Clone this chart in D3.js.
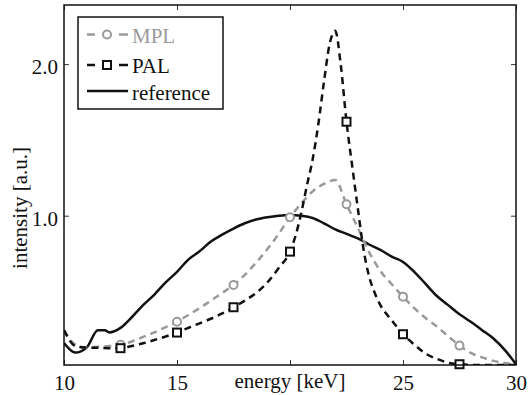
<!DOCTYPE html>
<html>
<head>
<meta charset="utf-8">
<script src="https://cdn.jsdelivr.net/npm/d3@7"></script>
<style>
  html, body { margin: 0; padding: 0; background: #fff; }
  svg, svg text { font-family: "Liberation Serif", "Times New Roman", serif; }
  svg { display: block; }
</style>
</head>
<body>
<svg id="chart" width="528" height="395"></svg>
<script>
// reference spectrum (solid)
const refEnergy = [10, 10.5, 11, 11.5, 11.8, 12, 12.5, 13, 13.5, 14, 14.5, 15, 15.5, 16, 16.5, 17, 17.5, 18, 18.5, 19, 19.5, 20,
  20.5, 21, 21.5, 22, 22.5, 23, 23.5, 24, 24.5, 25, 25.5, 26, 26.5, 27, 27.5, 28, 28.5, 29, 29.5, 30];
const refValues = [0.16, 0.097, 0.13, 0.245, 0.245, 0.23, 0.26, 0.33, 0.41, 0.48, 0.56, 0.63, 0.71, 0.765, 0.83, 0.875, 0.915, 0.95, 0.975, 0.99, 1.0, 1.005,
  1.0, 0.985, 0.95, 0.91, 0.88, 0.85, 0.81, 0.775, 0.73, 0.695, 0.63, 0.55, 0.47, 0.41, 0.35, 0.30, 0.245, 0.19, 0.115, 0.02];

// MPL (grey dashed, circles)
const mplEnergy = [10, 10.5, 11, 11.5, 12, 12.5, 13, 13.5, 14, 14.5, 15, 15.5, 16, 16.5, 17, 17.5, 18, 18.5, 19, 19.5, 20,
  20.5, 21, 21.5, 22, 22.5, 23, 23.5, 24, 24.5, 25, 25.5, 26, 26.5, 27, 27.5, 28, 28.5, 29, 29.5, 30];
const mplValues = [0.245, 0.15, 0.13, 0.135, 0.14, 0.148, 0.17, 0.2, 0.23, 0.265, 0.30, 0.345, 0.39, 0.44, 0.49, 0.543, 0.61, 0.69, 0.78, 0.88, 0.99,
  1.08, 1.16, 1.21, 1.235, 1.075, 0.92, 0.76, 0.635, 0.548, 0.466, 0.39, 0.325, 0.268, 0.205, 0.143, 0.095, 0.065, 0.042, 0.028, 0.02];

// PAL (black dashed, squares)
const palEnergy = [10, 10.5, 11, 11.5, 12, 12.5, 13, 13.5, 14, 14.5, 15, 15.5, 16, 16.5, 17, 17.5, 18, 18.5, 19, 19.5, 20,
  20.25, 20.5, 20.75, 21, 21.25, 21.5, 21.75, 22, 22.25, 22.5, 22.75, 23, 23.25, 23.5, 23.75, 24, 24.5, 25, 25.5, 26, 26.5, 27, 27.5, 28, 29, 30];
const palValues = [0.245, 0.14, 0.13, 0.128, 0.126, 0.126, 0.14, 0.158, 0.18, 0.203, 0.229, 0.26, 0.29, 0.32, 0.355, 0.396, 0.44, 0.49, 0.56, 0.655, 0.763,
  0.87, 1.02, 1.2, 1.37, 1.6, 1.88, 2.13, 2.22, 1.99, 1.62, 1.33, 1.05, 0.78, 0.6, 0.49, 0.41, 0.31, 0.218, 0.15, 0.09, 0.055, 0.03, 0.02, 0.016, 0.015, 0.015];

const markerEnergy = [12.5, 15, 17.5, 20, 22.5, 25, 27.5];
const xTicks = [10, 15, 20, 25, 30];
const yTicks = [1.0, 2.0];

const svg = d3.select("#chart");
const plotLeft = 64, plotRight = 516, plotTop = 5, plotBottom = 365;
const grey = "#9a9a9a";
const serif = "'Liberation Serif', 'Times New Roman', serif";

const x = d3.scaleLinear().domain([10, 30]).range([plotLeft, plotRight]);
const y = d3.scaleLinear().domain([0.015, 2.39]).range([plotBottom, plotTop]);

svg.append("defs").append("clipPath").attr("id", "plot-clip")
  .append("rect").attr("x", plotLeft).attr("y", plotTop)
  .attr("width", plotRight - plotLeft).attr("height", plotBottom - plotTop);

const toPts = (es, vs) => es.map((e, i) => [e, vs[i]]);
const line = d3.line().x(d => x(d[0])).y(d => y(d[1])).curve(d3.curveMonotoneX);

const plot = svg.append("g").attr("clip-path", "url(#plot-clip)");

plot.append("path").attr("d", line(toPts(refEnergy, refValues)))
  .attr("fill", "none").attr("stroke", "#111").attr("stroke-width", 2.5);

plot.append("path").attr("d", line(toPts(mplEnergy, mplValues)))
  .attr("fill", "none").attr("stroke", grey).attr("stroke-width", 2.5).attr("stroke-dasharray", "7,5");

plot.append("path").attr("d", line(toPts(palEnergy, palValues)))
  .attr("fill", "none").attr("stroke", "#111").attr("stroke-width", 2.5).attr("stroke-dasharray", "7,5");

// markers
const valueAt = (es, vs, e) => vs[es.indexOf(e)];
svg.append("g").selectAll("circle").data(markerEnergy).join("circle")
  .attr("cx", d => x(d)).attr("cy", d => y(valueAt(mplEnergy, mplValues, d)))
  .attr("r", 4).attr("fill", "white").attr("stroke", grey).attr("stroke-width", 2);

svg.append("g").selectAll("rect").data(markerEnergy).join("rect")
  .attr("x", d => x(d) - 4).attr("y", d => y(valueAt(palEnergy, palValues, d)) - 4)
  .attr("width", 8).attr("height", 8).attr("fill", "white").attr("stroke", "#111").attr("stroke-width", 2);

// axes, inward ticks
const fontSize = 21;
const axes = [
  svg.append("g").attr("transform", `translate(0,${plotBottom})`)
    .call(d3.axisBottom(x).tickValues(xTicks).tickSize(-5).tickPadding(10).tickFormat(d => d === 20 ? "" : d)),
  svg.append("g").attr("transform", `translate(0,${plotTop})`)
    .call(d3.axisTop(x).tickValues(xTicks).tickSize(-5).tickFormat("")),
  svg.append("g").attr("transform", `translate(${plotLeft},0)`)
    .call(d3.axisLeft(y).tickValues(yTicks).tickSize(-5).tickPadding(6).tickFormat(d3.format(".1f"))),
  svg.append("g").attr("transform", `translate(${plotRight},0)`)
    .call(d3.axisRight(y).tickValues(yTicks).tickSize(-5).tickFormat(""))
];
axes.forEach(g => g.attr("font-family", serif).attr("font-size", fontSize));
axes[2].selectAll(".tick text").attr("dy", "0.47em");

svg.selectAll(".domain").remove();
svg.selectAll(".tick line").attr("stroke", "#333").attr("stroke-width", 1);
svg.selectAll(".tick text").attr("fill", "#111");

// frame
svg.append("rect").attr("x", plotLeft).attr("y", plotTop)
  .attr("width", plotRight - plotLeft).attr("height", plotBottom - plotTop)
  .attr("fill", "none").attr("stroke", "#111").attr("stroke-width", 1.5);

// axis labels
svg.append("text").attr("x", x(20)).attr("y", 388).attr("text-anchor", "middle")
  .attr("font-family", serif).attr("font-size", fontSize).attr("fill", "#111").text("energy [keV]");
svg.append("text").attr("transform", "translate(27,208) rotate(-90)").attr("text-anchor", "middle")
  .attr("font-family", serif).attr("font-size", fontSize).attr("fill", "#111").text("intensity [a.u.]");

// legend
const legend = svg.append("g");
legend.append("rect").attr("x", 78).attr("y", 17).attr("width", 145).attr("height", 92)
  .attr("fill", "white").attr("stroke", "#111").attr("stroke-width", 1.5);

const legendItems = [
  { label: "MPL", color: grey, marker: "circle", dashed: true, ly: 34.5, ty: 43 },
  { label: "PAL", color: "#111", marker: "square", dashed: true, ly: 65, ty: 73 },
  { label: "reference", color: "#111", marker: null, dashed: false, ly: 91, ty: 100 }
];
legendItems.forEach(it => {
  if (it.dashed) {
    [[87, 95], [119, 128]].forEach(s => legend.append("line")
      .attr("x1", s[0]).attr("x2", s[1]).attr("y1", it.ly).attr("y2", it.ly)
      .attr("stroke", it.color).attr("stroke-width", 2.5));
  } else {
    legend.append("line").attr("x1", 87).attr("x2", 128).attr("y1", it.ly).attr("y2", it.ly)
      .attr("stroke", it.color).attr("stroke-width", 2.5);
  }
  if (it.marker === "circle") {
    legend.append("circle").attr("cx", 107).attr("cy", it.ly).attr("r", 4)
      .attr("fill", "white").attr("stroke", it.color).attr("stroke-width", 2);
  } else if (it.marker === "square") {
    legend.append("rect").attr("x", 103).attr("y", it.ly - 4).attr("width", 8).attr("height", 8)
      .attr("fill", "white").attr("stroke", it.color).attr("stroke-width", 2);
  }
  legend.append("text").attr("x", 132).attr("y", it.ty)
    .attr("font-family", serif).attr("font-size", fontSize)
    .attr("fill", it.color).text(it.label);
});
</script>
</body>
</html>
